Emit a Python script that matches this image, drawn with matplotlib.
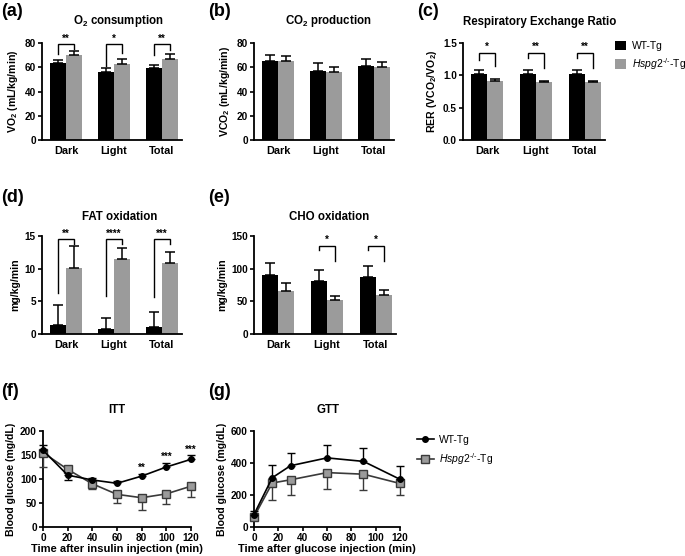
import matplotlib
matplotlib.use('Agg')
import matplotlib.pyplot as plt
import numpy as np
from matplotlib.lines import Line2D
from matplotlib.patches import Patch

plt.rcParams['font.family'] = ['Liberation Sans', 'DejaVu Sans']
plt.rcParams['mathtext.fontset'] = 'custom'
plt.rcParams['mathtext.rm'] = 'Liberation Sans'
plt.rcParams['mathtext.it'] = 'Liberation Sans:italic'
plt.rcParams['mathtext.bf'] = 'Liberation Sans:bold'

# ---------------- data ----------------
periods = ['Dark', 'Light', 'Total']
groups = ['WT-Tg', r'$\mathit{Hspg2}^{\text{-/-}}$-Tg']

vo2_wt = [63.5, 56.0, 59.5]
vo2_wt_err = [2.3, 3.0, 2.6]
vo2_ko = [70.5, 63.0, 67.0]
vo2_ko_err = [3.2, 3.8, 3.6]
vo2_sig = ['**', '*', '**']

vco2_wt = [65.0, 57.2, 61.3]
vco2_wt_err = [5.5, 6.2, 5.6]
vco2_ko = [65.0, 56.3, 60.6]
vco2_ko_err = [4.2, 3.5, 4.0]

rer_wt = [1.02, 1.025, 1.02]
rer_wt_err = [0.065, 0.058, 0.06]
rer_ko = [0.905, 0.89, 0.895]
rer_ko_err = [0.042, 0.015, 0.025]
rer_sig = ['*', '**', '**']

fat_wt = [1.45, 0.82, 1.13]
fat_wt_err = [3.0, 1.7, 2.3]
fat_ko = [10.1, 11.5, 10.8]
fat_ko_err = [3.4, 1.6, 1.8]
fat_sig = ['**', '****', '***']

cho_wt = [91.0, 81.5, 86.5]
cho_wt_err = [18.0, 17.0, 17.0]
cho_ko = [66.0, 52.0, 59.5]
cho_ko_err = [12.0, 6.0, 8.0]
cho_sig = ['', '*', '*']

itt_time = [0, 20, 40, 60, 80, 100, 120]
itt_wt = [160, 108, 98, 91, 106, 125, 141]
itt_wt_err = [10, 10, 4, 4, 4, 8, 8]
itt_ko = [155, 120, 90, 68, 61, 69, 85]
itt_ko_err = [30, 5, 10, 18, 26, 22, 23]
itt_sig = ['', '', '', '', '**', '***', '***']

gtt_time = [0, 15, 30, 60, 90, 120]
gtt_wt = [78, 308, 383, 432, 410, 298]
gtt_wt_err = [20, 80, 80, 83, 85, 82]
gtt_ko = [63, 275, 295, 340, 330, 272]
gtt_ko_err = [15, 105, 95, 100, 97, 75]

# bracket geometry (top, WT leg bottom, KO leg bottom)
vo2_brk = ([79, 79, 79], [71, 61, 70], [75, 72, 74])
rer_brk = ([1.35, 1.35, 1.35], [1.24, 1.27, 1.27], [1.15, 1.11, 1.12])
fat_brk = ([14.5, 14.5, 14.5], [6.3, 5.8, 5.7], [13.7, 13.7, 13.7])
cho_brk = ([135, 135, 135], [128, 128, 128], [112, 112, 112])

# ---------------- figure ----------------
W, H = 685, 556
fig = plt.figure(figsize=(W / 100, H / 100), dpi=100)
GREY = '#9b9b9b'
BOLD = 'bold'


def px_axes(l, t, r, b):
    return fig.add_axes([l / W, 1 - b / H, (r - l) / W, (b - t) / H])


def style(ax):
    for s in ['top', 'right']:
        ax.spines[s].set_visible(False)
    for s in ['left', 'bottom']:
        ax.spines[s].set_linewidth(1.3)
    ax.tick_params(axis='both', direction='out', length=3.2, width=1.2,
                   labelsize=7.2, pad=1.2)
    for lab in ax.get_xticklabels() + ax.get_yticklabels():
        lab.set_fontweight(BOLD)


def bar_panel(ax, wt, wt_err, ko, ko_err, ylim, yticks, ylabel, fmt='{:g}'):
    x = np.arange(len(periods))
    w = 0.33
    ekw = dict(elinewidth=1.1, capthick=1.1, ecolor='black')
    ax.bar(x - w / 2, wt, w, color='black', yerr=[np.zeros(3), wt_err],
           capsize=3.6, error_kw=ekw, zorder=2)
    ax.bar(x + w / 2, ko, w, color=GREY, yerr=[np.zeros(3), ko_err],
           capsize=3.6, error_kw=ekw, zorder=2)
    ax.set_xlim(-0.5, 2.42)
    ax.set_ylim(*ylim)
    ax.set_yticks(yticks)
    ax.set_yticklabels([fmt.format(v) for v in yticks])
    ax.set_xticks(x)
    ax.set_xticklabels(periods)
    style(ax)
    ax.tick_params(axis='x', length=0, labelsize=7.8, pad=4)
    for lab in ax.get_xticklabels():
        lab.set_fontweight(BOLD)
    ax.set_ylabel(ylabel, fontsize=7.6, fontweight=BOLD, labelpad=3)


def brackets(ax, sig, brk, star_dy):
    tops, lw, lk = brk
    w = 0.33
    for i, s in enumerate(sig):
        if not s:
            continue
        x1, x2 = i - w / 2, i + w / 2
        ax.plot([x1, x1, x2, x2], [lw[i], tops[i], tops[i], lk[i]], color='black',
                lw=1.0, clip_on=False, solid_joinstyle='miter')
        ax.text(i, tops[i] + star_dy, s, ha='center', va='bottom', fontsize=7,
                fontweight=BOLD, clip_on=False)


def line_panel(ax, t, wt, wt_err, ko, ko_err):
    wt = np.array(wt, float); ko = np.array(ko, float)
    wt_err = np.array(wt_err, float); ko_err = np.array(ko_err, float)
    up = wt >= ko
    z = np.zeros_like(wt)
    c1 = ax.errorbar(t, ko, yerr=[np.where(up, ko_err, z), np.where(up, z, ko_err)],
                     color='#3a3a3a', lw=1.2, marker='s', ms=5.5, mfc=GREY, mec='#3a3a3a',
                     mew=1.0, capsize=3, elinewidth=1.0, capthick=1.0, zorder=3)
    c2 = ax.errorbar(t, wt, yerr=[np.where(up, z, wt_err), np.where(up, wt_err, z)],
                     color='black', lw=1.2, marker='o', ms=4, mfc='black', mec='black',
                     capsize=3, elinewidth=1.0, capthick=1.0, zorder=4)
    for c in (c1, c2):
        for a in c.get_children():
            a.set_clip_on(False)
        c[0].set_clip_on(False)
    ax.set_xlim(0, 120)
    ax.set_xticks([0, 20, 40, 60, 80, 100, 120])
    style(ax)


# (a) O2 consumption
axa = px_axes(42, 43, 182, 140)
bar_panel(axa, vo2_wt, vo2_wt_err, vo2_ko, vo2_ko_err, (0, 80), [0, 20, 40, 60, 80],
          r'VO$_\mathdefault{2}$ (mL/kg/min)')
brackets(axa, vo2_sig, vo2_brk, 0.5)

# (b) CO2 production
axb = px_axes(254, 43, 394, 140)
bar_panel(axb, vco2_wt, vco2_wt_err, vco2_ko, vco2_ko_err, (0, 80), [0, 20, 40, 60, 80],
          r'VCO$_\mathdefault{2}$ (mL/kg/min)')

# (c) RER
axc = px_axes(463, 43, 605, 140)
bar_panel(axc, rer_wt, rer_wt_err, rer_ko, rer_ko_err, (0, 1.5), [0, 0.5, 1.0, 1.5],
          r'RER (VCO$_\mathdefault{2}$/VO$_\mathdefault{2}$)', fmt='{:.1f}')
brackets(axc, rer_sig, rer_brk, 0.01)

# (d) FAT oxidation
axd = px_axes(42, 236, 182, 334)
bar_panel(axd, fat_wt, fat_wt_err, fat_ko, fat_ko_err, (0, 15), [0, 5, 10, 15],
          'mg/kg/min')
brackets(axd, fat_sig, fat_brk, 0.05)

# (e) CHO oxidation
axe = px_axes(254, 236, 396, 334)
bar_panel(axe, cho_wt, cho_wt_err, cho_ko, cho_ko_err, (0, 150), [0, 50, 100, 150],
          'mg/kg/min')
brackets(axe, cho_sig, cho_brk, 1)

# (f) ITT
axf = px_axes(43, 431, 191, 527)
line_panel(axf, itt_time, itt_wt, itt_wt_err, itt_ko, itt_ko_err)
axf.set_ylim(0, 200)
axf.set_yticks([0, 50, 100, 150, 200])
style(axf)
axf.set_ylabel('Blood glucose (mg/dL)', fontsize=7.6, fontweight=BOLD, labelpad=3)
axf.set_xlabel('Time after insulin injection (min)', fontsize=8, fontweight=BOLD, labelpad=0.5)
for tt, m, e, s in zip(itt_time, itt_wt, itt_wt_err, itt_sig):
    if s:
        axf.text(tt, m + e + 2, s, ha='center', va='bottom', fontsize=7,
                 fontweight=BOLD, clip_on=False)

# (g) GTT
axg = px_axes(254, 431, 400, 527)
line_panel(axg, gtt_time, gtt_wt, gtt_wt_err, gtt_ko, gtt_ko_err)
axg.set_ylim(0, 600)
axg.set_yticks([0, 200, 400, 600])
style(axg)
axg.set_ylabel('Blood glucose (mg/dL)', fontsize=7.6, fontweight=BOLD, labelpad=3)
axg.set_xlabel('Time after glucose injection (min)', fontsize=8, fontweight=BOLD, labelpad=0.5)

# titles
titles = [(118, 21, r'O$_\mathdefault{2}$ consumption'),
          (328, 21, r'CO$_\mathdefault{2}$ production'),
          (540, 22, 'Respiratory Exchange Ratio'),
          (120, 217, 'FAT oxidation'),
          (329, 217, 'CHO oxidation'),
          (117, 410, 'ITT'),
          (328, 410, 'GTT')]
for x, y, s in titles:
    fig.text(x / W, 1 - y / H, s, ha='center', va='center', fontsize=8.3, fontweight=BOLD)

# panel labels
labels = [(1, 11, '(a)'), (208, 11, '(b)'), (417, 11, '(c)'),
          (1, 198, '(d)'), (208, 198, '(e)'),
          (1, 392, '(f)'), (208, 392, '(g)')]
for x, y, s in labels:
    fig.text(x / W, 1 - y / H, s, ha='left', va='center', fontsize=13, fontweight=BOLD)

# legends
bar_handles = [Patch(facecolor='black'), Patch(facecolor=GREY)]
fig.legend(bar_handles, groups, loc='upper left', bbox_to_anchor=(615 / W, 1 - 41 / H),
           frameon=False, fontsize=7.5, handlelength=1.1, handleheight=1.0,
           handletextpad=0.5, labelspacing=0.45, borderaxespad=0, borderpad=0)

line_handles = [Line2D([], [], color='black', marker='o', ms=4, lw=1.2),
                Line2D([], [], color='#3a3a3a', marker='s', ms=5.5, mfc=GREY,
                       mec='#3a3a3a', lw=1.2)]
fig.legend(line_handles, groups, loc='upper left', bbox_to_anchor=(417 / W, 1 - 435 / H),
           frameon=False, fontsize=7.5, handlelength=1.6, handletextpad=0.5,
           labelspacing=0.6, borderaxespad=0, borderpad=0)

fig.savefig('out.png', dpi=100)
